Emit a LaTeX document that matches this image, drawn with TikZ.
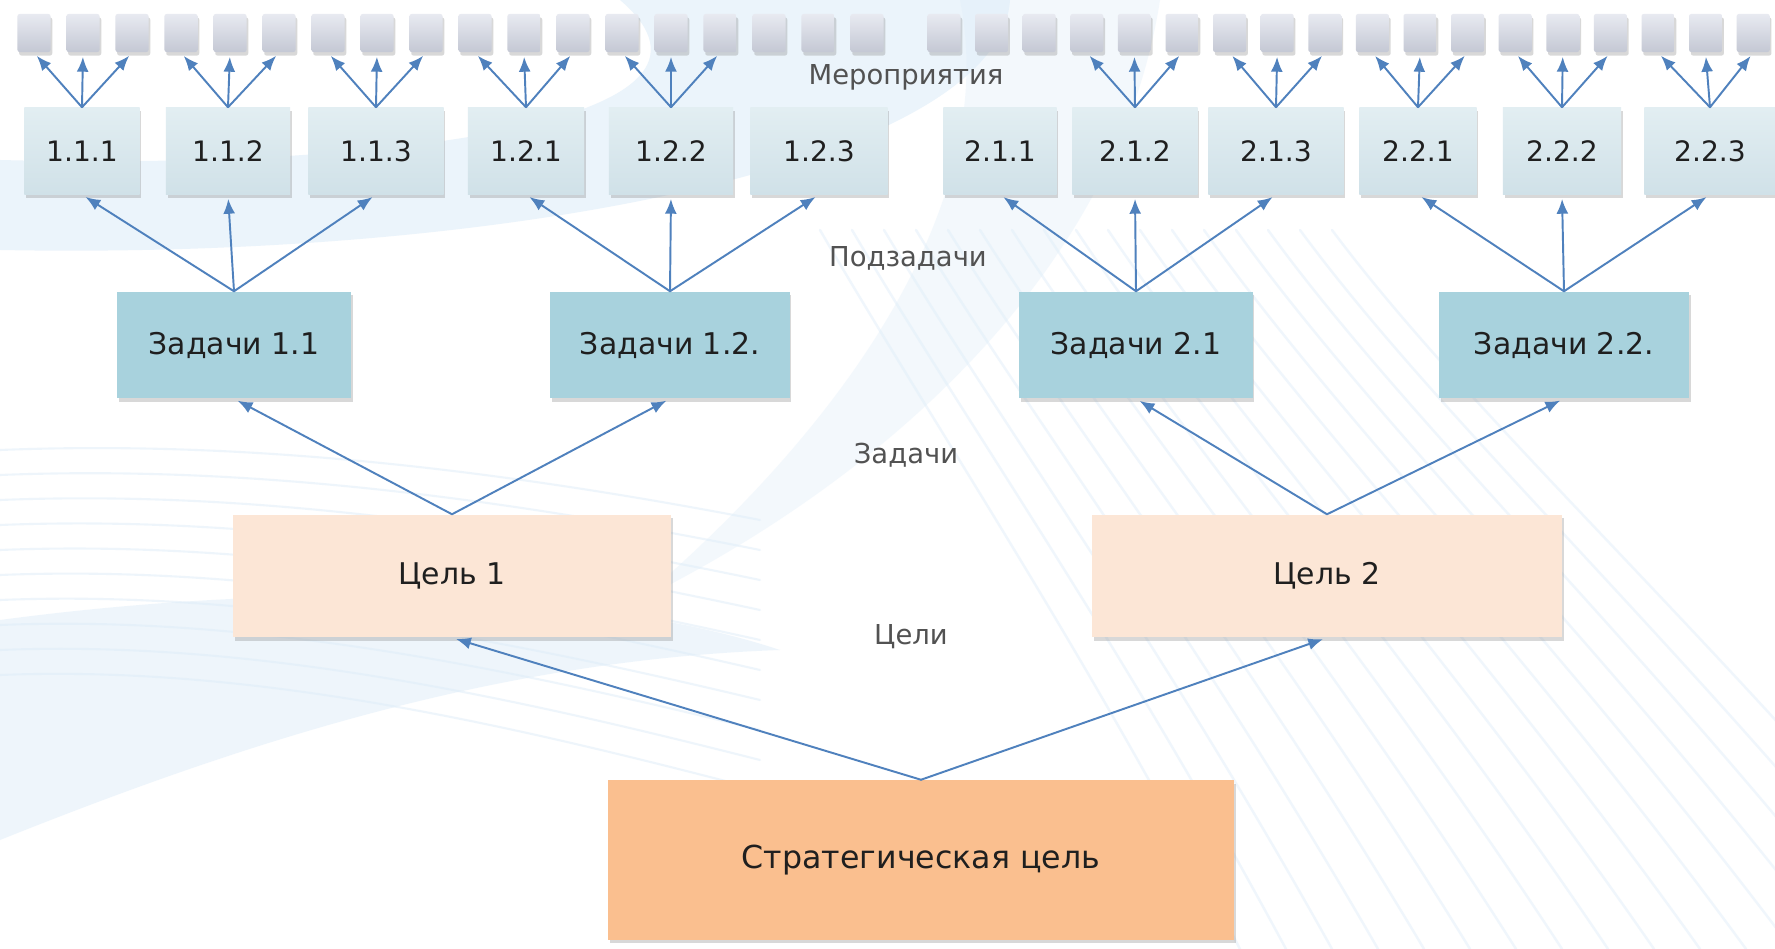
\documentclass[tikz,border=0pt]{standalone}
\usepackage{fontspec}
\setmainfont{DejaVu Sans}
\usetikzlibrary{arrows.meta,shadows}
\definecolor{arrowblue}{RGB}{79,129,189}
\definecolor{sqtop}{RGB}{232,234,241}
\definecolor{sqbot}{RGB}{196,200,212}
\definecolor{subtop}{RGB}{226,238,242}
\definecolor{subbot}{RGB}{208,225,232}
\definecolor{taskfill}{RGB}{168,210,221}
\definecolor{goalfill}{RGB}{252,230,214}
\definecolor{stratfill}{RGB}{250,191,143}
\definecolor{bgblue}{RGB}{222,237,249}
\begin{document}
\begin{tikzpicture}[x=0.01cm,y=-0.01cm,line join=round,line cap=round,
	>={Latex[length=4.2pt,width=3.4pt]},
	box/.style={rectangle,inner sep=0pt,text=black!88,
		drop shadow={shadow xshift=0.5pt,shadow yshift=-1pt,opacity=0.3}},
	sq/.style={box,minimum width=0.33cm,minimum height=0.38cm,rounded corners=0.6pt,
		top color=sqtop,bottom color=sqbot},
	sub/.style={box,top color=subtop,bottom color=subbot,minimum height=0.86cm,
		font=\fontsize{8}{10}\selectfont},
	task/.style={box,fill=taskfill,minimum height=1.06cm,font=\fontsize{8.5}{10}\selectfont},
	goal/.style={box,fill=goalfill,minimum height=1.22cm,font=\fontsize{8.5}{10}\selectfont},
	lvl/.style={text=black!68,font=\fontsize{7.8}{10}\selectfont},
	arr/.style={->,draw=arrowblue,line width=0.55pt,shorten >=1.2pt}]
	\useasboundingbox (0,0) rectangle (1775,949);
	\fill[white] (0,0) rectangle (1775,949);
	% light swooshes behind the tree
	\fill[bgblue,opacity=0.6] (620,0) .. controls (760,120) and (400,170) .. (0,160)
		-- (0,250) .. controls (520,260) and (1000,160) .. (1010,0) -- cycle;
	\fill[bgblue,opacity=0.35] (960,0) .. controls (1000,200) and (850,420) .. (640,600)
		.. controls (900,470) and (1120,260) .. (1160,0) -- cycle;
	\fill[bgblue,opacity=0.5] (0,620) .. controls (300,580) and (600,590) .. (780,650)
		.. controls (500,660) and (250,740) .. (0,840) -- cycle;
	\foreach \i in {0,...,16}
		\draw[bgblue,line width=0.7pt,opacity=0.45] ({820+32*\i},230) .. controls ({930+34*\i},420) and ({1080+40*\i},640) .. ({1240+46*\i},949);
	\foreach \i in {0,...,9}
		\draw[bgblue,line width=0.6pt,opacity=0.5] (0,{450+25*\i}) .. controls (250,{440+25*\i}) and (500,{470+28*\i}) .. (760,{520+30*\i});

	% events
	\foreach \i in {0,...,17} {
		\node[sq] (l\i) at ({34+49*\i},33) {};
		\node[sq] (r\i) at ({944+47.6*\i},33) {};
	}

	% subtasks
	\foreach \a/\b/\c/\x/\w in {1/1/1/82/1.15,1/1/2/228/1.24,1/1/3/376/1.35,1/2/1/526/1.16,
		1/2/2/671/1.24,1/2/3/819/1.37,2/1/1/1000/1.13,2/1/2/1135/1.25,2/1/3/1276/1.35,
		2/2/1/1418/1.17,2/2/2/1562/1.18,2/2/3/1710/1.31}
		\node[sub,minimum width=\w cm] (s\a\b\c) at (\x,151) {\a.\b.\c};

	% tasks
	\node[task,minimum width=2.34cm] (t11) at (234,345) {Задачи 1.1};
	\node[task,minimum width=2.39cm] (t12) at (670,345) {Задачи 1.2.};
	\node[task,minimum width=2.33cm] (t21) at (1136,345) {Задачи 2.1};
	\node[task,minimum width=2.50cm] (t22) at (1564,345) {Задачи 2.2.};

	% goals
	\node[goal,minimum width=4.38cm] (g1) at (452,576) {Цель 1};
	\node[goal,minimum width=4.70cm] (g2) at (1327,576) {Цель 2};
	\node[box,fill=stratfill,minimum width=6.26cm,minimum height=1.59cm,
		font=\fontsize{9}{10}\selectfont] (sg) at (921,860) {Стратегическая цель};

	% level names
	\node[lvl] (lmer) at (906,77) {Мероприятия};
	\node[lvl] (lsub) at (908,258) {Подзадачи};
	\node[lvl] (ltask) at (906,455) {Задачи};
	\node[lvl] (lgoal) at (911,637) {Цели};

	% connectors
	\draw[arr] (sg.north) -- (g1.south);
	\draw[arr] (sg.north) -- (g2.south);
	\foreach \g/\t in {1/11,1/12,2/21,2/22}
		\draw[arr] (g\g.north) -- (t\t.south);
	\foreach \t/\s in {11/111,11/112,11/113,12/121,12/122,12/123,
		21/211,21/212,21/213,22/221,22/222,22/223}
		\draw[arr] (t\t.north) -- (s\s.south);
	\foreach \s/\k in {111/0,112/3,113/6,121/9,122/12}
		\foreach \d in {0,1,2} {
			\pgfmathtruncatemacro\m{\k+\d}
			\draw[arr] (s\s.north) -- (l\m.south);
		}
	\foreach \s/\k in {212/3,213/6,221/9,222/12,223/15}
		\foreach \d in {0,1,2} {
			\pgfmathtruncatemacro\m{\k+\d}
			\draw[arr] (s\s.north) -- (r\m.south);
		}
\end{tikzpicture}
\end{document}
